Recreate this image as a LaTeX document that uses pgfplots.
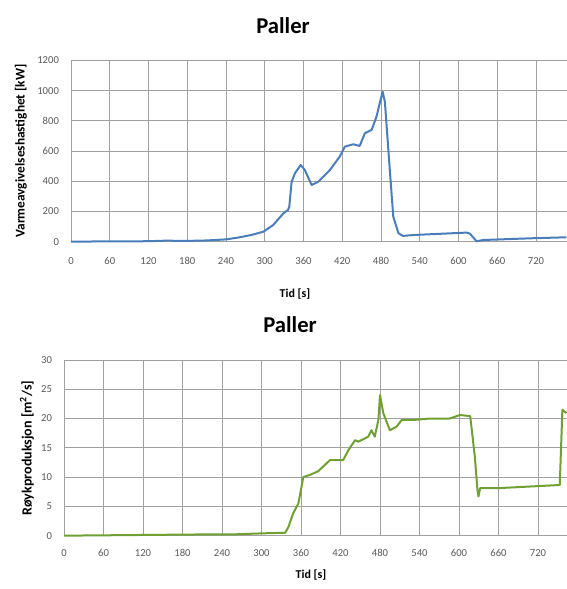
\documentclass[border=0pt]{standalone}
\usepackage{fontspec}
\setmainfont{Carlito}
\usepackage{pgfplots}
\pgfplotsset{compat=1.18}
\definecolor{hrrblue}{RGB}{74,126,187}
\definecolor{smkgreen}{RGB}{112,160,50}
\definecolor{gridc}{RGB}{160,160,160}
\definecolor{tickc}{RGB}{89,89,89}
\pgfplotsset{
  excel/.style={
    scale only axis, anchor=south west,
    axis x line*=bottom, axis y line*=left,
    axis line style={gridc},
    grid=major, major grid style={gridc, line width=0.6pt},
    major tick length=0pt,
    tick label style={font=\fontsize{8}{9}\selectfont, text=tickc},
    /pgf/number format/assume math mode=true,
    /pgf/number format/1000 sep={},
    yticklabel style={xshift=-5.5pt},
    xtick={0,60,...,720},
    clip=false,
  }
}
\begin{document}
\begin{tikzpicture}
\path[use as bounding box] (0,0) rectangle (425.25pt,441.75pt);
\begin{axis}[excel, at={(53.25pt,260.5pt)}, width=372pt, height=135.9pt,
  xmin=0, xmax=768, ymin=0, ymax=1200, ytick={0,200,...,1200},
  xticklabel style={yshift=-8.5pt}]
\addplot[hrrblue, line width=1.5pt, line join=round] coordinates {
(0,0) (30,1) (60,2) (90,2) (120,3) (150,7) (165,5) (180,5) (210,8) (240,15)
(260,28) (280,45) (298,66) (313,110) (329,188) (336,210) (338,232) (341.6,397)
(346.8,453) (355.6,508) (362,475) (372.6,375) (383,397) (401,475) (416,563)
(424,629) (437,645) (447,634) (455,718) (465.5,740) (473,828) (478,916)
(482.5,993) (486,927) (494,453) (499,166) (507,56) (514,38) (530,44)
(612.5,60) (617.7,53) (628,2) (638,11) (710,22) (767,29)};
\end{axis}
\begin{axis}[excel, at={(48pt,40pt)}, width=377.25pt, height=131.8pt,
  xmin=0, xmax=764, ymin=0, ymax=30, ytick={0,5,...,30},
  xticklabel style={yshift=-6.7pt}]
\addplot[smkgreen, line width=1.5pt, line join=round] coordinates {
(0,0) (100,0.1) (200,0.2) (252,0.2) (303,0.4) (336,0.5) (341,1.5) (348,3.8)
(356,5.5) (363.5,10) (374,10.4) (386,11) (404,12.9) (424,12.9) (432,14.6)
(442,16.3) (447,16.05) (462,16.9) (467,18) (472,16.9) (477.5,19.75) (480,24)
(485,20.9) (495,18) (505,18.6) (513,19.75) (530.6,19.75) (556,20) (586,20)
(601.5,20.6) (617,20.4) (624,13.5) (628,7.8) (629.5,6.7) (632,8.1) (657,8.1)
(753,8.65) (757,21.5) (763.5,20.9)};
\end{axis}
\node[font=\fontsize{17}{20}\selectfont\bfseries] at (212.25pt,422.25pt) {Paller};
\node[font=\fontsize{17}{20}\selectfont\bfseries] at (217.5pt,198pt) {Paller};
\node[font=\fontsize{10}{11}\selectfont\bfseries, rotate=90] at (15.75pt,328.5pt) {Varmeavgivelseshastighet [kW]};
\node[font=\fontsize{10.5}{11}\selectfont\bfseries, rotate=90] at (20.25pt,105.75pt) {Røykproduksjon [m\textsuperscript{2}/s]};
\node[font=\fontsize{9}{10}\selectfont\bfseries] at (221.25pt,221.25pt) {Tid [s]};
\node[font=\fontsize{9}{10}\selectfont\bfseries] at (233.25pt,10.5pt) {Tid [s]};
\end{tikzpicture}
\end{document}
